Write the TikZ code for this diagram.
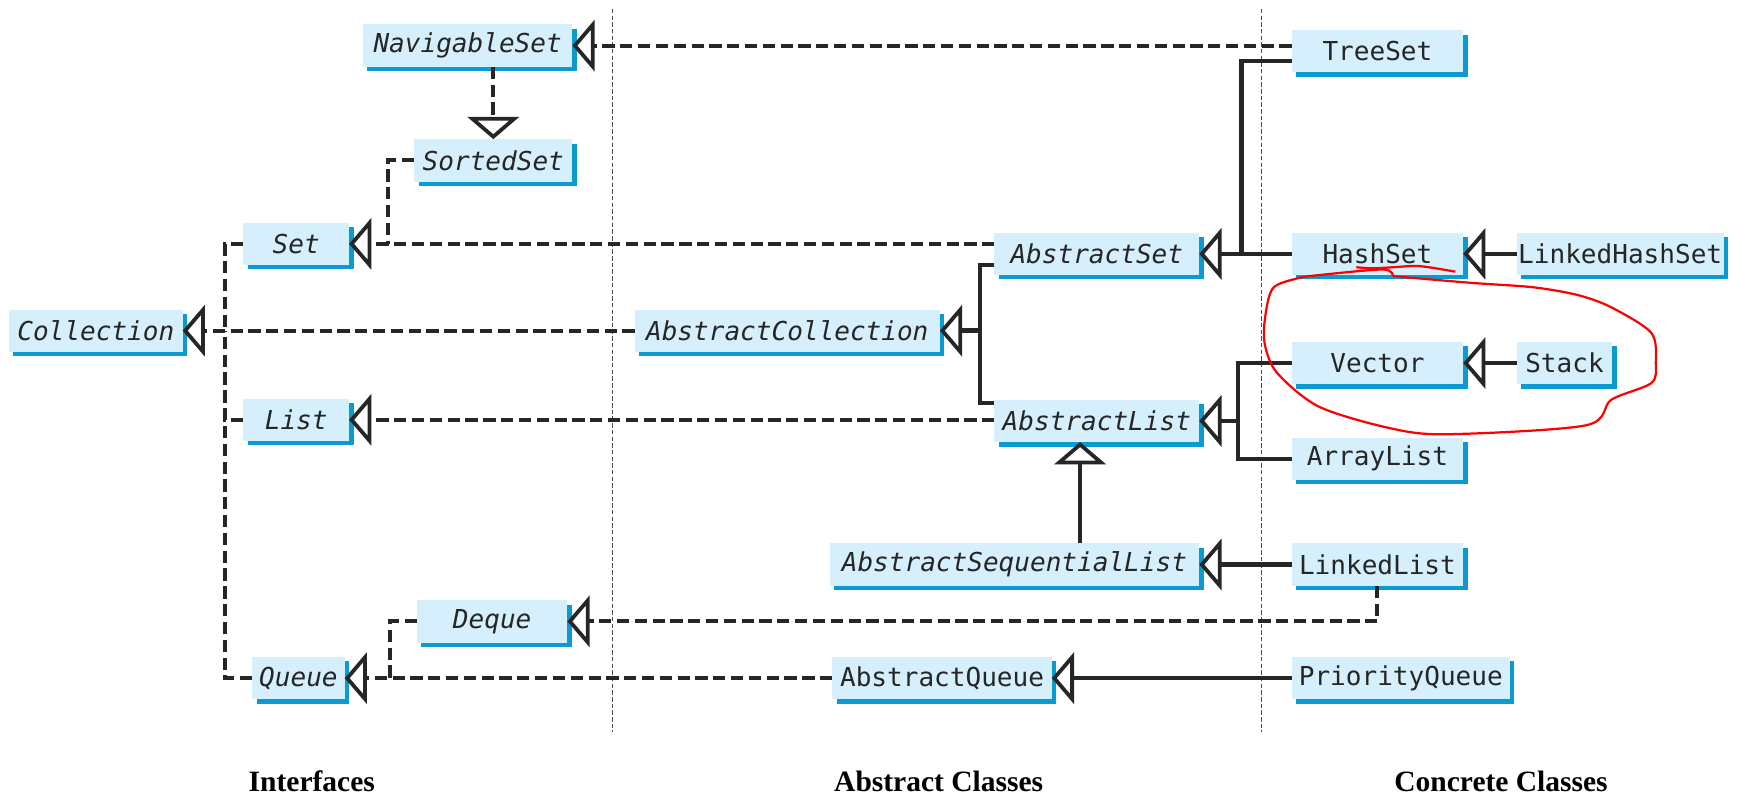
\documentclass[tikz,border=0pt]{standalone}
\usepackage{fontspec}
\setmainfont{Liberation Serif}
\newfontfamily\boxfont{DejaVu Sans Mono}
\usetikzlibrary{arrows.meta,shadows}
\definecolor{boxfill}{HTML}{D6EFFC}
\definecolor{boxedge}{HTML}{0B9BD0}

\begin{document}
\begin{tikzpicture}[x=1pt, y=-1pt,
  cls/.style={fill=boxfill, minimum height=38pt, inner xsep=1pt, inner ysep=0pt, outer sep=0pt,
    font=\boxfont\fontsize{23.4}{26}\selectfont, text=black!85,
    drop shadow={shadow xshift=4pt, shadow yshift=-4pt, fill=boxedge, opacity=1}},
  iface/.style={cls, font=\boxfont\itshape\fontsize{23.4}{26}\selectfont},
  impl/.style={line width=3.6pt, dash pattern=on 11pt off 5pt, black!85},
  ext/.style={line width=4pt, black!85, line join=miter},
  inh/.style={-{Triangle[open, length=20pt, width=46pt, line width=3.4pt]}},
  sep/.style={line width=0.8pt, dash pattern=on 4pt off 2pt, black!70},
  head/.style={font=\bfseries\fontsize{26.5}{30}\selectfont, anchor=base}]
\useasboundingbox (0,0) rectangle (1568,714);

% column separators
\draw[sep] (550,8) -- (550,657);
\draw[sep] (1133,8) -- (1133,657);

% interfaces
\node[iface, minimum width=188pt] (navset) at (420,41) {NavigableSet};
\node[iface, minimum width=142pt] (sortedset) at (443,144) {SortedSet};
\node[iface, minimum width=95pt] (set) at (266,219) {Set};
\node[iface, minimum width=156pt] (coll) at (86,297) {Collection};
\node[iface, minimum width=95pt] (list) at (266,377) {List};
\node[iface, minimum width=135pt] (deque) at (442,558) {Deque};
\node[iface, minimum width=83pt] (queue) at (268,609) {Queue};

% abstract classes
\node[iface, minimum width=274pt] (abscoll) at (707,297) {AbstractCollection};
\node[iface, minimum width=184pt] (absset) at (985,228) {AbstractSet};
\node[iface, minimum width=184pt] (abslist) at (985,378) {AbstractList};
\node[iface, minimum width=332pt] (absseq) at (911,507) {AbstractSequentialList};
\node[cls, minimum width=197pt] (absqueue) at (846,609) {AbstractQueue};

% concrete classes
\node[cls, minimum width=154pt] (treeset) at (1237,46) {TreeSet};
\node[cls, minimum width=154pt] (hashset) at (1237,228) {HashSet};
\node[cls, minimum width=186pt] (linkedhs) at (1455,228) {LinkedHashSet};
\node[cls, minimum width=154pt] (vector) at (1237,326) {Vector};
\node[cls, minimum width=86pt] (stack) at (1405,326) {Stack};
\node[cls, minimum width=154pt] (arraylist) at (1237,412) {ArrayList};
\node[cls, minimum width=154pt] (linkedlist) at (1237,507) {LinkedList};
\node[cls, minimum width=196pt] (pqueue) at (1258,609) {PriorityQueue};

% junction points
\coordinate (collbus) at (202,297);
\coordinate (setbus) at (348,219);
\coordinate (queuebus) at (350,609);
\coordinate (absbr) at (880,297);
\coordinate (setbr) at (1115,228);
\coordinate (listbr) at (1112,378);

% interface links
\draw[impl, inh] (navset.south -| sortedset.north) -- (sortedset.north);
\draw[impl] (sortedset.west) -| (setbus);
\draw[impl] (set.west) -| (collbus);
\draw[impl] (list.west) -| (collbus);
\draw[impl] (queue.west) -| (collbus);
\draw[impl] (deque.west) -| (queuebus);
\draw[impl, inh] (treeset.west |- navset.east) -- (navset.east);
\draw[impl, inh] (absset.west |- set.east) -- (set.east);
\draw[impl, inh] (abscoll.west) -- (coll.east);
\draw[impl, inh] (abslist.west |- list.east) -- (list.east);
\draw[impl, inh] (absqueue.west) -- (queue.east);
\draw[impl, inh] (linkedlist.south) |- (deque.east);

% class links
\draw[ext] ([yshift=-10pt]absset.west) -| (absbr);
\draw[ext] ([yshift=16pt]abslist.west) -| (absbr);
\draw[ext, inh] (absbr) -- (abscoll.east);
\draw[ext] ([yshift=-9pt]treeset.west) -| (setbr);
\draw[ext, inh] (hashset.west) -- (absset.east);
\draw[ext, inh] (linkedhs.west) -- (hashset.east);
\draw[ext] (vector.west) -| (listbr);
\draw[ext] (arraylist.west) -| (listbr);
\draw[ext, inh] (listbr) -- (abslist.east);
\draw[ext, inh] (stack.west) -- (vector.east);
\draw[ext, inh] ([xshift=-15pt]abslist.south |- absseq.north) -- ([xshift=-15pt]abslist.south);
\draw[ext, inh] (linkedlist.west) -- (absseq.east);
\draw[ext, inh] (pqueue.west) -- (absqueue.east);

% column titles
\node[head] (lblint) at (280,711) {Interfaces};
\node[head] (lblabs) at (843,711) {Abstract Classes};
\node[head] (lblcon) at (1348,711) {Concrete Classes};

% red marks
\draw[red, line width=2pt] plot[smooth] coordinates {(1218,240) (1233,241) (1251,240) (1275,239) (1307,244)};
\draw[red, line width=2pt] plot[smooth] coordinates {(1251,248) (1321,254) (1377,258) (1417,265) (1447,276) (1483,299) (1487,326) (1483,344) (1447,359) (1424,382) (1298,390) (1246,384) (1184,365) (1147,335) (1136,310) (1136,286) (1143,259) (1165,250) (1185,247) (1242,242) (1251,248)};
\end{tikzpicture}
\end{document}
